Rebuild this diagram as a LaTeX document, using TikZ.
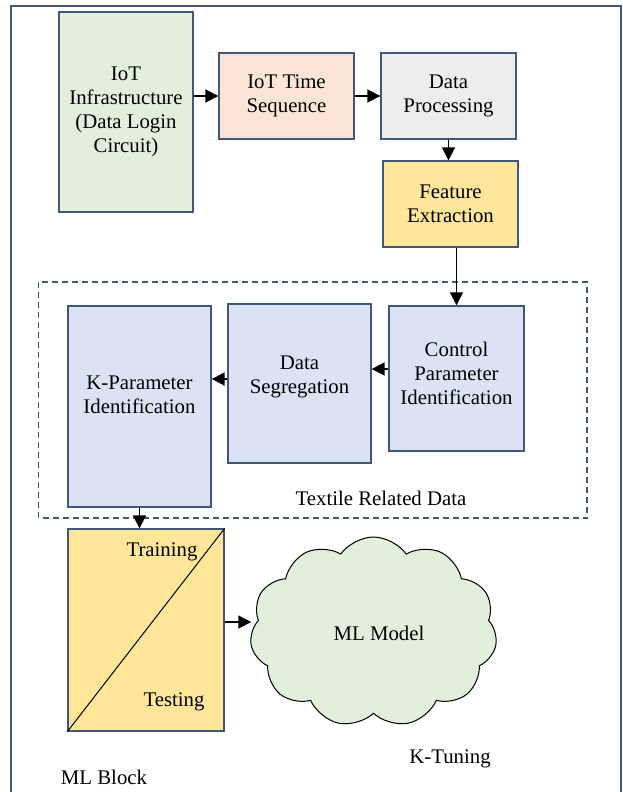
\documentclass[tikz,border=0pt]{standalone}
\usepackage{fontspec}
\setmainfont{Liberation Serif}
\usepackage{xcolor}
\usepackage{tikz}
\usetikzlibrary{shapes.symbols,arrows.meta}

\definecolor{edgeblue}{HTML}{41577A}
\definecolor{infragreen}{HTML}{E2EFDA}
\definecolor{seqpeach}{HTML}{FBE5D6}
\definecolor{procgray}{HTML}{EDEDED}
\definecolor{featyellow}{HTML}{FFE699}
\definecolor{textileblue}{HTML}{DAE3F3}

\begin{document}
\begin{tikzpicture}[x=1pt,y=-1pt,font=\fontsize{20.8}{24}\selectfont,
  blk/.style={draw=edgeblue, line width=1.4pt, align=center, inner sep=0pt},
  flow/.style={line width=1.8pt, -{Triangle[length=13pt,width=13pt]}}]
\useasboundingbox (0,0) rectangle (623,792);
\clip (0,0) rectangle (623,792);
\draw[edgeblue, line width=1.5pt] (11,6) rectangle (621,800);

% acquisition chain
\node[blk, fill=infragreen, minimum width=134pt, minimum height=200pt] (infra) at (126,112) {IoT\\Infrastructure\\(Data Login\\Circuit)};
\node[blk, fill=seqpeach, minimum width=135pt, minimum height=86pt] (tseq) at (286.5,96) {IoT Time\\Sequence};
\node[blk, fill=procgray, minimum width=135pt, minimum height=86pt] (dproc) at (448.5,96) {Data\\Processing};
\node[blk, fill=featyellow, minimum width=135pt, minimum height=86pt] (feat) at (450.5,204) {Feature\\Extraction};

% textile data group
\draw[edgeblue, line width=1.3pt, dash pattern=on 6pt off 4pt] (38.5,282) rectangle (587,518);
\node[blk, fill=textileblue, minimum width=143pt, minimum height=201pt] (kpar) at (139.5,406.5) {};
\node[align=center] (kpartxt) at (139.5,395) {K-Parameter\\Identification};
\node[blk, fill=textileblue, minimum width=143pt, minimum height=159pt] (dseg) at (299.5,383.5) {};
\node[align=center] (dsegtxt) at (299.5,377) {Data\\Segregation};
\node[blk, fill=textileblue, minimum width=135pt, minimum height=145pt] (cpid) at (456.5,378.5) {};
\node[align=center] (cpidtxt) at (456.5,373) {Control\\Parameter\\Identification};
\node (textile) at (381,498) {Textile Related Data};

% ML block and model
\node[blk, fill=featyellow, minimum width=156pt, minimum height=202pt] (mlblk) at (146,630) {};
\draw[line width=1pt] (mlblk.south west) -- (mlblk.north east);
\node (train) at (162,552) {Training};
\node (test) at (174,702) {Testing};
\node[cloud, cloud puffs=11, cloud puff arc=110, cloud ignores aspect, draw=black, line width=1pt,
  fill=infragreen, minimum width=247pt, minimum height=190pt, inner sep=0pt] (model) at (373.5,632) {};
\node (modeltxt) at (379,633) {ML Model};
\node (ktune) at (450,759) {K-Tuning};
\node (mlname) at (104,777) {ML Block};

% connectors
\draw[flow] (tseq.west -| infra.east) -- (tseq.west);
\draw[flow] (tseq.east) -- (dproc.west);
\draw[flow] (dproc.south) -- (dproc.south |- feat.north);
\draw[flow] (cpid.north |- feat.south) -- (cpid.north);
\draw[flow] ([yshift=9.5pt]cpid.west) -- ([yshift=9.5pt]cpid.west -| dseg.east);
\draw[flow] ([yshift=4.5pt]dseg.west) -- ([yshift=4.5pt]dseg.west -| kpar.east);
\draw[flow] (kpar.south) -- (kpar.south |- mlblk.north);
\draw[flow] ([yshift=8pt]mlblk.east) -- ([yshift=8pt]mlblk.east -| model.west);
\end{tikzpicture}
\end{document}
